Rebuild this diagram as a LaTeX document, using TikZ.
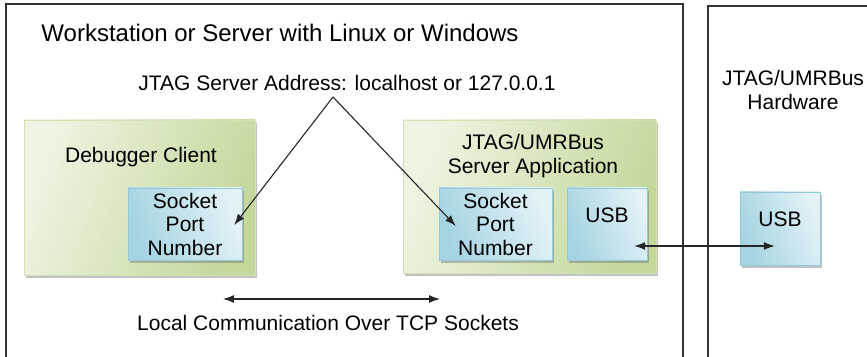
\documentclass[tikz,border=0pt]{standalone}
\usepackage{fontspec}
\setmainfont{Liberation Sans}
\usepackage{xcolor}
\usepackage{tikz}
\usetikzlibrary{arrows.meta,shadows}
\definecolor{grnlight}{HTML}{EEF4E2}
\definecolor{grndark}{HTML}{C3D89B}
\definecolor{grnedge}{HTML}{D2E2B4}
\definecolor{blulight}{HTML}{E3F2F7}
\definecolor{bludark}{HTML}{A4D3E2}
\definecolor{bluedge}{HTML}{92C9DA}
\definecolor{frame}{HTML}{333333}
\makeatletter
\renewcommand\small{%
  \@setfontsize\small{21pt}{23.5pt}%
}
\renewcommand\large{%
  \@setfontsize\large{24pt}{28pt}%
}
\makeatother

\begin{document}
\begin{tikzpicture}[x=1pt, y=1pt, >={Latex[length=11pt,width=8pt]},
  every node/.style={font=\small},
  outerbox/.style={draw=frame, line width=1.5pt},
  link/.style={draw=black!85, line width=1.1pt},
  greenbox/.style={draw=grnedge, left color=grnlight, right color=grndark, shading angle=70,
    drop shadow={shadow xshift=2pt, shadow yshift=-3pt, opacity=0.4, fill=black!60}},
  bluebox/.style={draw=bluedge, left color=bludark, right color=blulight, shading angle=110,
    align=center, inner sep=0pt,
    drop shadow={shadow xshift=2pt, shadow yshift=-3pt, opacity=0.4, fill=black!60}},
  sockbox/.style={bluebox, minimum height=72pt, text depth=-9pt},
  usbbox/.style={bluebox, minimum width=80pt, text depth=18pt}]
  \path[use as bounding box, clip] (0,0) rectangle (867,356);
  \draw[outerbox] (6,-20) rectangle (683,352);
  \draw[outerbox] (708,-20) rectangle (900,350);
  \node[font=\large] (host) at (280,323) {Workstation or Server with Linux or Windows};
  \node (addr) at (347,273) {JTAG Server Address: localhost or 127.0.0.1};
  \coordinate (apex) at (333,259);
  % debugger side
  \node[greenbox, minimum width=231pt, minimum height=155pt] (client) at (139.5,158.5) {};
  \node (clientlbl) at (141,199) {Debugger Client};
  \node[sockbox, minimum width=114pt] (clientsock) at (185,132) {Socket\\Port\\Number};
  % server side
  \node[greenbox, minimum width=253pt, minimum height=153pt] (server) at (529.5,159.5) {};
  \node[align=center] (serverlbl) at (533,200) {JTAG/UMRBus\\Server Application};
  \node[sockbox, minimum width=113pt] (serversock) at (495.5,132) {Socket\\Port\\Number};
  \node[usbbox, minimum height=72pt] (serverusb) at (607,132) {USB};
  % hardware
  \node[align=center] (hwlbl) at (793,266) {JTAG/UMRBus\\Hardware};
  \node[usbbox, minimum height=73pt] (hwusb) at (780,127.5) {USB};
  \draw[link, ->] (apex) -- ([shift={(-8,-1)}]clientsock.east);
  \draw[link, ->] (apex) -- ([shift={(17,-2)}]serversock.west);
  \draw[link, <->] ([shift={(-13,-22)}]serverusb.east) -- ([shift={(35,-17.5)}]hwusb.west);
  \node (comm) at (328,33) {Local Communication Over TCP Sockets};
  \coordinate (commL) at (223,57);
  \coordinate (commR) at (440,57);
  \draw[link, <->] (commL) -- (commR);
\end{tikzpicture}
\end{document}
